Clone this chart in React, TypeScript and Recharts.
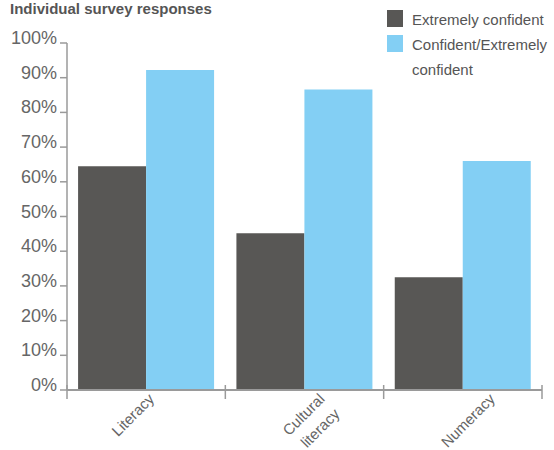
import React from "react";
import { BarChart, Bar, XAxis, YAxis } from "recharts";

const categories = ["Literacy", "Cultural literacy", "Numeracy"];
const extremelyConfident = [64.5, 45.2, 32.5];
const confidentOrExtremely = [92.2, 86.6, 66];
const yTicks = [0, 10, 20, 30, 40, 50, 60, 70, 80, 90, 100];
const seriesNames = ["Extremely confident", "Confident/Extremely confident"];

const data = categories.map((name, i) => ({
  name,
  extreme: extremelyConfident[i],
  confident: confidentOrExtremely[i],
}));

const W = 554;
const H = 450;
const M = { top: 43, right: 12, left: 0, bottom: 0 };
const Y_W = 67;
const BAND = (W - M.left - M.right - Y_W) / categories.length;
const AXIS = "#9a9a9a";
const DARK = "#585755";
const LIGHT = "#83cff4";
const FONT = "'Liberation Sans', Arial, sans-serif";

// nudges so the rotated labels land where the original put them
const LABEL_SHIFT = [9, 21, 33];

function YTick(props: any) {
  const { x, y, payload } = props;
  return (
    <text x={x} y={y + 1} textAnchor="end" fill="#666" fontSize={18} fontFamily={FONT}>
      {payload.value}%
    </text>
  );
}

function XTick(props: any) {
  const { x, y, payload, index } = props;
  const lines = String(payload.value).split(" ");
  const ex = x + LABEL_SHIFT[index];
  const ey = y + 10;
  return (
    <g>
      <line x1={x - BAND / 2} x2={x - BAND / 2} y1={y - 5} y2={y + 9} stroke={AXIS} strokeWidth={1.5} />
      {index === categories.length - 1 && (
        <line x1={x + BAND / 2} x2={x + BAND / 2} y1={y - 5} y2={y + 9} stroke={AXIS} strokeWidth={1.5} />
      )}
      {lines.map((t, i) => (
        <text
          key={i}
          x={ex + i * 15}
          y={ey + i * 15}
          textAnchor="end"
          fill="#666"
          fontSize={15}
          fontFamily={FONT}
          transform={`rotate(-45, ${ex + i * 15}, ${ey + i * 15})`}
        >
          {t}
        </text>
      ))}
    </g>
  );
}

function LegendBox() {
  const colors = [DARK, LIGHT];
  return (
    <div
      style={{
        position: "absolute",
        left: 387,
        top: 7,
        fontFamily: FONT,
        fontSize: 15,
        color: "#555",
        lineHeight: "25px",
      }}
    >
      {seriesNames.map((label, i) => (
        <div key={label} style={{ display: "flex", alignItems: "flex-start" }}>
          <span
            style={{
              width: 16,
              height: 17,
              background: colors[i],
              marginTop: 3,
              marginRight: 9,
              flex: "none",
            }}
          />
          <span style={{ width: 142 }}>{label}</span>
        </div>
      ))}
    </div>
  );
}

export default function App() {
  return (
    <div style={{ position: "absolute", left: 0, top: 0, width: W, height: H, overflow: "hidden", background: "#fff" }}>
      <div
        style={{
          position: "absolute",
          left: 10,
          top: 0,
          fontFamily: FONT,
          fontWeight: "bold",
          fontSize: 15,
          color: "#555",
          whiteSpace: "nowrap",
        }}
      >
        Individual survey responses
      </div>
      <LegendBox />
      <BarChart width={W} height={H} data={data} margin={M} barCategoryGap="7%" barGap={0}>
        <XAxis
          dataKey="name"
          interval={0}
          height={60}
          tickLine={false}
          tickSize={0}
          tickMargin={0}
          axisLine={{ stroke: AXIS, strokeWidth: 2 }}
          tick={<XTick />}
        />
        <YAxis
          type="number"
          domain={[0, 100]}
          ticks={yTicks}
          width={Y_W}
          tickSize={7}
          tickMargin={3}
          axisLine={{ stroke: AXIS, strokeWidth: 1.5 }}
          tickLine={{ stroke: AXIS, strokeWidth: 1.5 }}
          tick={<YTick />}
        />
        <Bar dataKey="extreme" name={seriesNames[0]} fill={DARK} isAnimationActive={false} />
        <Bar dataKey="confident" name={seriesNames[1]} fill={LIGHT} isAnimationActive={false} />
      </BarChart>
    </div>
  );
}
